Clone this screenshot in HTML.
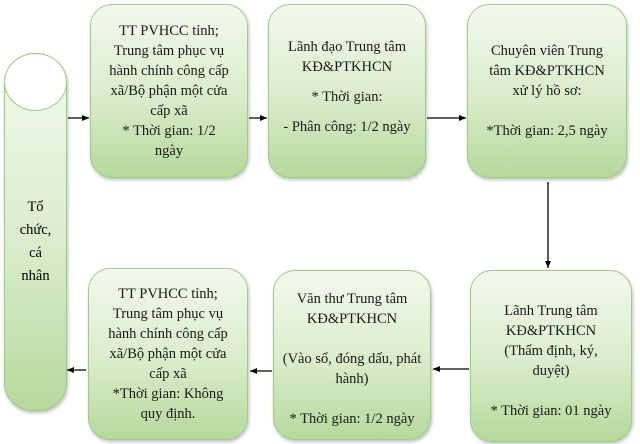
<!DOCTYPE html>
<html><head><meta charset="utf-8"><style>
body{margin:0;width:640px;height:444px;background:#fff;position:relative;overflow:hidden;font-family:"Liberation Serif",serif;}
.b{position:absolute;box-sizing:border-box;border:1.5px solid #9ccc84;border-radius:22px;
background:linear-gradient(#f3f9ee,#d9ecca 55%,#b5d99c);display:flex;align-items:center;justify-content:center;text-align:center;
font-size:14.5px;line-height:20px;color:#1a1a1a;padding:0 2px;white-space:nowrap;box-shadow:1px 2px 3px rgba(0,0,0,.25);}
.cyl{position:absolute;left:4px;top:53px;width:63px;height:358px;box-sizing:border-box;border:1.5px solid #9ccc84;border-radius:31px 31px 28px 28px;
background:linear-gradient(#f3f9ee,#d9ecca 55%,#b5d99c);box-shadow:1px 2px 3px rgba(0,0,0,.25);}
.top{position:absolute;left:4px;top:53px;width:63px;height:58px;box-sizing:border-box;border:1.5px solid #9ccc84;border-radius:50%;background:#fff;}
.lbl{position:absolute;left:4px;top:196px;width:63px;text-align:center;font-size:14.5px;line-height:23px;}
.s{display:block;height:10px}
</style></head><body>
<div class="cyl"></div><div class="top"></div>
<div class="lbl">Tổ<br>chức,<br>cá<br>nhân</div>

<div class="b" style="left:90px;top:4px;width:158px;height:174px">TT PVHCC tỉnh;<br>Trung tâm phục vụ<br>hành chính công cấp<br>xã/Bộ phận một cửa<br>cấp xã<br>* Thời gian: 1/2<br>ngày</div>
<div class="b" style="left:268px;top:4px;width:158px;height:174px;align-items:flex-start;padding-top:32px"><div>Lãnh đạo Trung tâm<br>KĐ&amp;PTKHCN<span class="s"></span>* Thời gian:<span class="s"></span>- Phân công: 1/2 ngày</div></div>
<div class="b" style="left:467px;top:4px;width:160px;height:174px;align-items:flex-start;padding-top:36px">Chuyên viên Trung<br>tâm KĐ&amp;PTKHCN<br>xử lý hồ sơ:<br><br>*Thời gian: 2,5 ngày</div>

<div class="b" style="left:470px;top:270px;width:162px;height:172px;padding-top:10px">Lãnh Trung tâm<br>KĐ&amp;PTKHCN<br>(Thẩm định, ký,<br>duyệt)<br><br>* Thời gian: 01 ngày</div>
<div class="b" style="left:273px;top:270px;width:158px;height:170px;padding-top:8px">Văn thư Trung tâm<br>KĐ&amp;PTKHCN<br><br>(Vào sổ, đóng dấu, phát<br>hành)<br><br>* Thời gian: 1/2 ngày</div>
<div class="b" style="left:88px;top:268px;width:160px;height:172px">TT PVHCC tỉnh;<br>Trung tâm phục vụ<br>hành chính công cấp<br>xã/Bộ phận một cửa<br>cấp xã<br>*Thời gian: Không<br>quy định.</div>

<svg width="640" height="444" style="position:absolute;left:0;top:0" fill="#000">
<defs><marker id="a" markerWidth="8" markerHeight="8" refX="7" refY="4" orient="auto" markerUnits="userSpaceOnUse"><path d="M0,1L7,4L0,7z"/></marker></defs>
<g stroke="#000" stroke-width="1.3" marker-end="url(#a)">
<line x1="68" y1="118" x2="89" y2="118"/>
<line x1="249" y1="118" x2="267" y2="118"/>
<line x1="427" y1="118" x2="466" y2="118"/>
<line x1="548" y1="182" x2="548" y2="268"/>
<line x1="469" y1="369" x2="433" y2="369"/>
<line x1="272" y1="371" x2="250" y2="371"/>
<line x1="86" y1="370" x2="67" y2="370"/>
</g></svg>
</body></html>
